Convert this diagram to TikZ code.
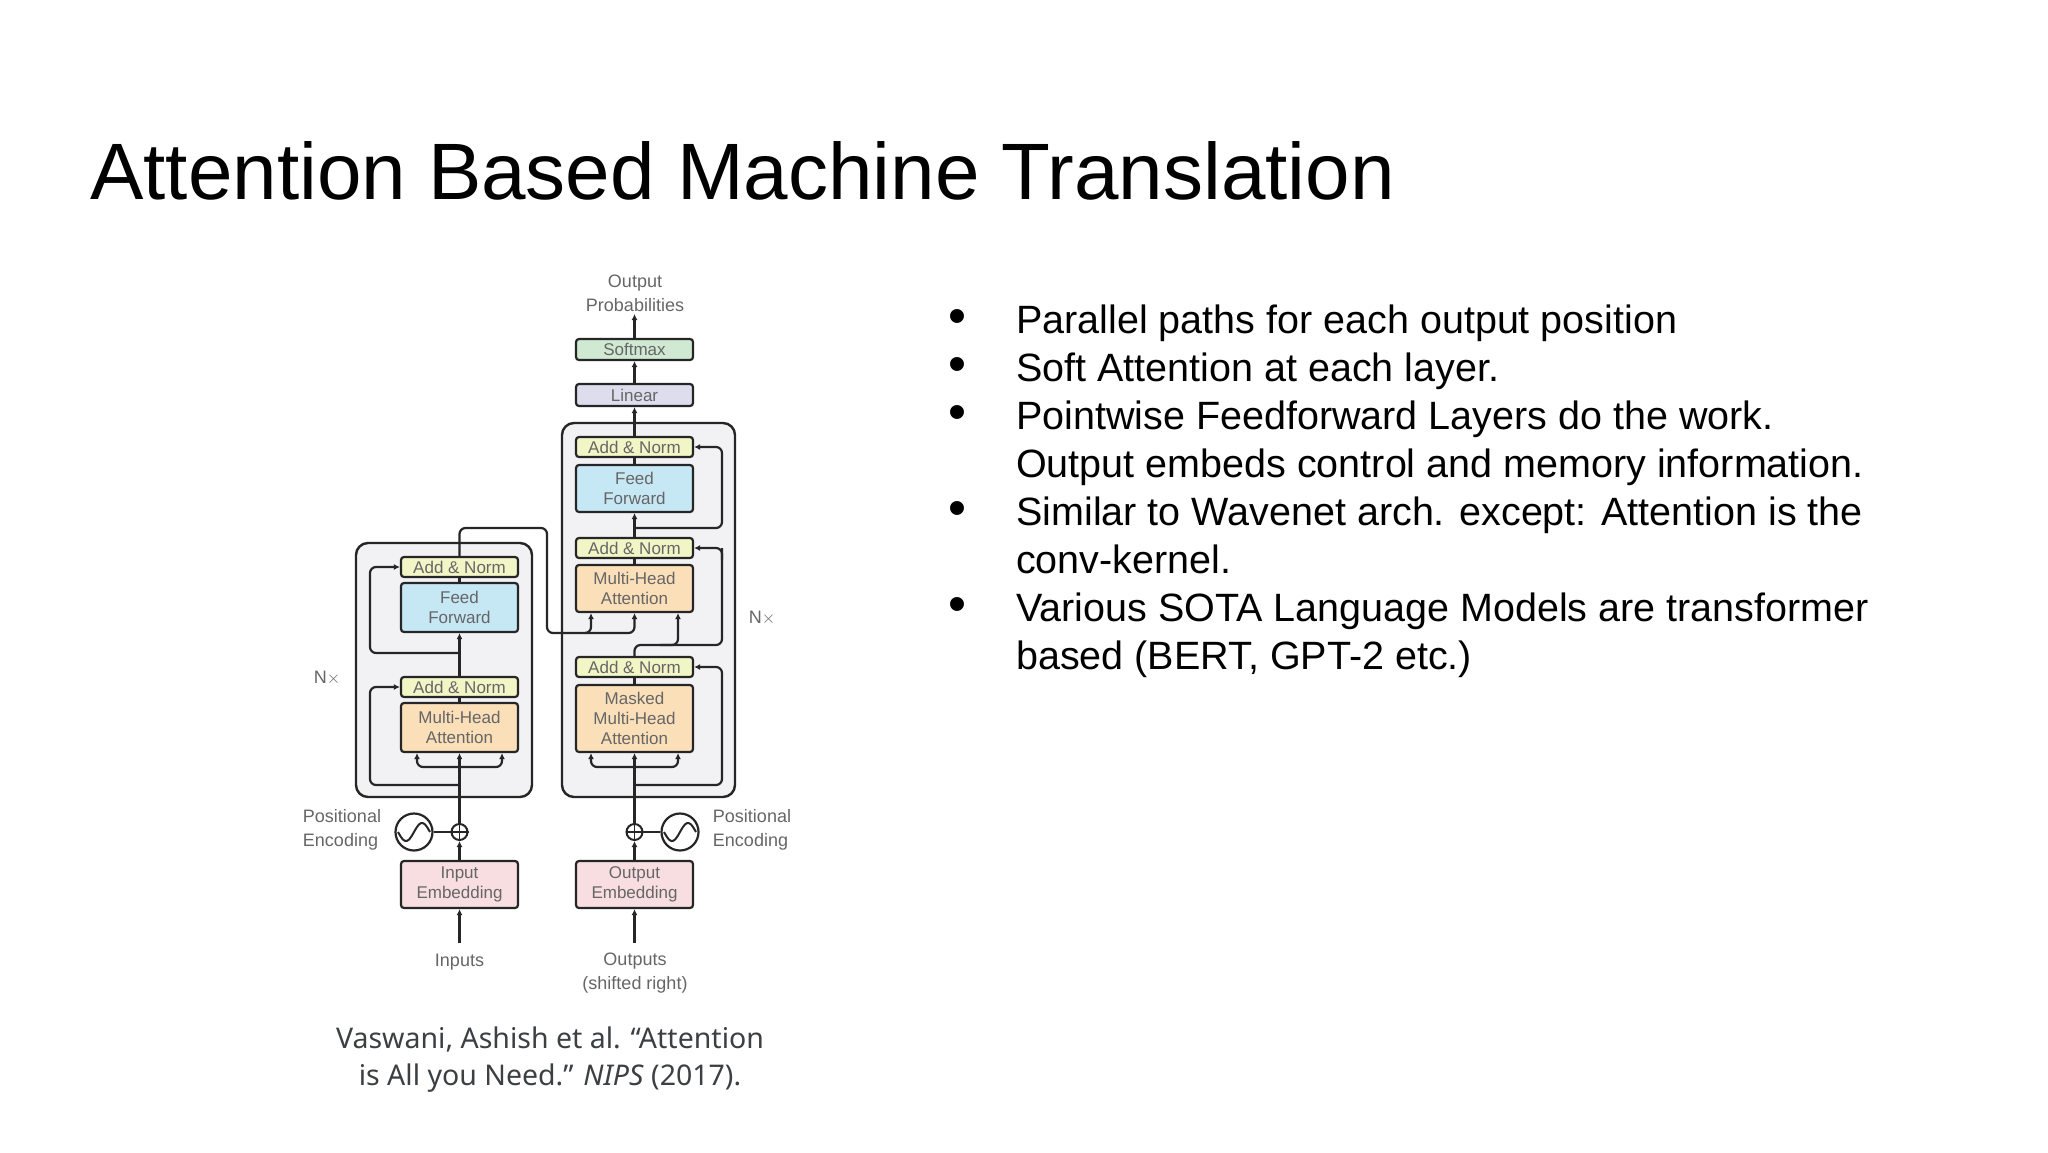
\documentclass[tikz,border=0pt]{standalone}
\usepackage{fontspec}
\setmainfont{Liberation Sans}
\newfontfamily\capfont{Noto Sans}
\usetikzlibrary{arrows.meta,calc}
\definecolor{boxbg}{HTML}{F2F2F4}
\definecolor{anC}{HTML}{F2F6C6}
\definecolor{ffC}{HTML}{C6E7F4}
\definecolor{mhC}{HTML}{FBDFB9}
\definecolor{emC}{HTML}{F8DDE1}
\definecolor{smC}{HTML}{CFE9D2}
\definecolor{lnC}{HTML}{DDDDEE}
\definecolor{capC}{HTML}{3C4043}
\tikzset{
 blk/.style={draw=black!85,line width=2.2pt,rounded corners=3pt,minimum width=117pt,inner sep=0pt,align=center,text=black!60,font=\fontsize{17}{20}\selectfont},
 lab/.style={text=black!60,align=center,inner sep=0pt,font=\fontsize{18}{24}\selectfont},
 ln/.style={line width=2.2pt,draw=black!85,rounded corners=6pt},
 ar/.style={ln,-{Latex[length=6pt,width=6pt]}},
 outer/.style={draw=black!85,line width=2.4pt,fill=boxbg,rounded corners=12pt},
 bul/.style={anchor=base west,inner sep=0pt,font=\fontsize{39.5}{46}\selectfont},
}
\begin{document}
\begin{tikzpicture}[x=1pt,y=-1pt]
\useasboundingbox[fill=white] (0,0) rectangle (2048,1152);
\node[anchor=base west,inner sep=0pt,font=\fontsize{80}{90}\selectfont] (title) at (90,199) {Attention Based Machine Translation};
% bullets
\foreach \i/\t in {0/Parallel paths for each output position,1/Soft Attention at each layer.,2/Pointwise Feedforward Layers do the work.,4/Similar to Wavenet arch. except: Attention is the,6/Various SOTA Language Models are transformer}{
 \node[bul] (b\i) at (1016,{333+48*\i}) {\t};
 \node[bul,anchor=base] (d\i) at (957,{333+48*\i}) {\scalebox{1.3}{\textbullet}};
}
\node[bul] (c3) at (1016,{333+48*3}) {Output embeds control and memory information.};
\node[bul] (c5) at (1016,{333+48*5}) {conv-kernel.};
\node[bul] (c7) at (1016,{333+48*7}) {based (BERT, GPT-2 etc.)};
% caption
\node[text=capC,align=center,inner sep=0pt,font=\capfont\fontsize{28.5}{37}\selectfont] (cap) at (550,1060) {Vaswani, Ashish et al. “Attention\\is All you Need.” \textit{NIPS} (2017).};
% outer boxes
\draw[outer] (356,543) rectangle (532,797);
\draw[outer] (562,423) rectangle (735,797);
% encoder
\node[blk,fill=anC,minimum height=20pt] (ean2) at (459.5,567) {Add \& Norm};
\node[blk,fill=ffC,minimum height=49pt] (eff) at (459.5,607.5) {Feed\\Forward};
\node[blk,fill=anC,minimum height=20pt] (ean1) at (459.5,687) {Add \& Norm};
\node[blk,fill=mhC,minimum height=49pt] (emha) at (459.5,727.5) {Multi-Head\\Attention};
\node[blk,fill=emC,minimum height=47pt] (eemb) at (459.5,884.5) {Input\\Embedding};
% decoder
\node[blk,fill=anC,minimum height=20pt] (dan1) at (634.5,447) {Add \& Norm};
\node[blk,fill=ffC,minimum height=47pt] (dff) at (634.5,488.5) {Feed\\Forward};
\node[blk,fill=anC,minimum height=20pt] (dan2) at (634.5,548) {Add \& Norm};
\node[blk,fill=mhC,minimum height=47pt] (dmha) at (634.5,588.5) {Multi-Head\\Attention};
\node[blk,fill=anC,minimum height=20pt] (dan3) at (634.5,667) {Add \& Norm};
\node[blk,fill=mhC,minimum height=67pt] (dmmha) at (634.5,718.5) {Masked\\Multi-Head\\Attention};
\node[blk,fill=emC,minimum height=47pt] (demb) at (634.5,884.5) {Output\\Embedding};
\node[blk,fill=lnC,minimum height=22pt] (lin) at (634.5,395) {Linear};
\node[blk,fill=smC,minimum height=21pt] (soft) at (634.5,349.5) {Softmax};
% labels
\node[lab] (outp) at (635,293) {Output\\Probabilities};
\node[lab] (inl) at (459.5,962) {Inputs};
\node[lab] (outl) at (635,973) {Outputs\\(shifted right)};
\node[lab,align=left] (pel) at (342,830) {Positional\\Encoding};
\node[lab,align=left] (per) at (752,830) {Positional\\Encoding};
\node[lab] (nxl) at (327,678) {N$\times$};
\node[lab] (nxr) at (762,618) {N$\times$};
\coordinate (inp) at (459.5,943);
\coordinate (outs) at (634.5,943);
\coordinate (ptop) at (634.5,314);
% positional encodings
\node[draw=black!85,line width=2pt,circle,minimum size=16pt,inner sep=0pt] (eplus) at (459.5,832) {};
\draw[line width=1.6pt,black!85] (eplus.north)--(eplus.south) (eplus.west)--(eplus.east);
\node[draw=black!85,line width=2pt,circle,minimum size=16pt,inner sep=0pt] (dplus) at (634.5,832) {};
\draw[line width=1.6pt,black!85] (dplus.north)--(dplus.south) (dplus.west)--(dplus.east);
\node[draw=black!85,line width=2.2pt,circle,minimum size=37pt,inner sep=0pt] (esin) at (414,832) {};
\node[draw=black!85,line width=2.2pt,circle,minimum size=37pt,inner sep=0pt] (dsin) at (680,832) {};
\draw[line width=2pt,black!85] plot[domain=-16:16,samples=30] ({414+\x},{832-9*sin(\x/16*180)});
\draw[line width=2pt,black!85] plot[domain=-16:16,samples=30] ({680+\x},{832-9*sin(\x/16*180)});
\draw[ln] (esin.east)--(eplus.west);
\draw[ln] (dsin.west)--(dplus.east);
% encoder connections
\draw[ar] (inp)--(eemb.south);
\draw[ar] (eemb.north)--(eplus.south);
\draw[ar] (eplus.north)--(emha.south);
\draw[ar] (459.5,767)--(417,767)--($(emha.south)+(-42.5,0)$);
\draw[ar] (459.5,767)--(502,767)--($(emha.south)+(42.5,0)$);
\draw[ar] (459.5,785)--(370,785)--(370,687)--(ean1.west);
\draw[ln] (emha.north)--(ean1.south);
\draw[ar] (ean1.north)--(eff.south);
\draw[ar] (459.5,653)--(370,653)--(370,567)--(ean2.west);
\draw[ln] (eff.north)--(ean2.south);
\draw[ar] (ean2.north)--(459.5,528)--(547,528)--(547,633)--(591,633)--($(dmha.south)+(-43.5,0)$);
\draw[ar] (585,633)--(634.5,633)--(dmha.south);
% decoder connections
\draw[ar] (outs)--(demb.south);
\draw[ar] (demb.north)--(dplus.south);
\draw[ar] (dplus.north)--(dmmha.south);
\draw[ar] (634.5,767)--(591,767)--($(dmmha.south)+(-43.5,0)$);
\draw[ar] (634.5,767)--(678,767)--($(dmmha.south)+(43.5,0)$);
\draw[ar] (634.5,785)--(722,785)--(722,667)--(dan3.east);
\draw[ln] (dmmha.north)--(dan3.south);
\draw[ln] (dan3.north)--(634.5,645)--(722,645)--(722,548);
\draw[ar] (722,560)--(722,548)--(dan2.east);
\draw[ar] (660,645)--(678,645)--($(dmha.south)+(43.5,0)$);
\draw[ln] (dmha.north)--(dan2.south);
\draw[ar] (dan2.north)--(dff.south);
\draw[ar] (634.5,528)--(722,528)--(722,447)--(dan1.east);
\draw[ln] (dff.north)--(dan1.south);
\draw[ar] (dan1.north)--(lin.south);
\draw[ar] (lin.north)--(soft.south);
\draw[ar] (soft.north)--(ptop);
\end{tikzpicture}
\end{document}
